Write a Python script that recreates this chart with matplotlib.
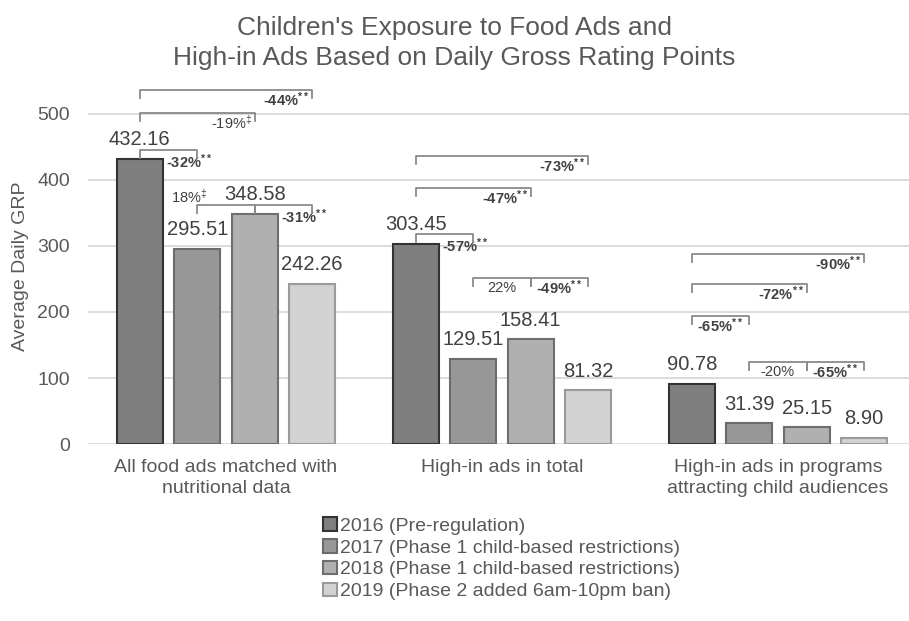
import numpy as np
import matplotlib
matplotlib.use('Agg')
import matplotlib.pyplot as plt
from matplotlib.patches import Patch

plt.rcParams['font.family'] = ['Liberation Sans', 'DejaVu Sans']
plt.rcParams['mathtext.fontset'] = 'custom'
plt.rcParams['mathtext.rm'] = 'Liberation Sans'
plt.rcParams['mathtext.bf'] = 'Liberation Sans:bold'
plt.rcParams['mathtext.default'] = 'regular'

# Data
categories = ['All food ads matched with\nnutritional data',
              'High-in ads in total',
              'High-in ads in programs\nattracting child audiences']
years = ['2016 (Pre-regulation)',
         '2017 (Phase 1 child-based restrictions)',
         '2018 (Phase 1 child-based restrictions)',
         '2019 (Phase 2 added 6am-10pm ban)']
grp_2016 = [432.16, 303.45, 90.78]
grp_2017 = [295.51, 129.51, 31.39]
grp_2018 = [348.58, 158.41, 25.15]
grp_2019 = [242.26, 81.32, 8.90]

# percentage change labels: (category, from bar, to bar, label, significance mark)
changes = [
    (0, 0, 3, '-44%', '**'),
    (0, 0, 2, '-19%', '‡'),
    (0, 0, 1, '-32%', '**'),
    (0, 1, 2, '18%', '‡'),
    (0, 2, 3, '-31%', '**'),
    (1, 0, 3, '-73%', '**'),
    (1, 0, 2, '-47%', '**'),
    (1, 0, 1, '-57%', '**'),
    (1, 1, 2, '22%', ''),
    (1, 2, 3, '-49%', '**'),
    (2, 0, 3, '-90%', '**'),
    (2, 0, 2, '-72%', '**'),
    (2, 0, 1, '-65%', '**'),
    (2, 1, 2, '-20%', ''),
    (2, 2, 3, '-65%', '**'),
]

# bracket layout for each change above: height, text placement
bracket_y = [536, 501, 445, 362, 362,
             436, 388, 318, 251, 251,
             288, 242, 194, 124, 124]
text_mode = ['right', 'right', 'after', 'aboveleft', 'after',
             'right', 'right', 'after', 'center', 'center',
             'right', 'right', 'center', 'center', 'center']

series = [grp_2016, grp_2017, grp_2018, grp_2019]
fills = ['#7f7f7f', '#979797', '#b0b0b0', '#d2d2d2']
edges = ['#333333', '#6b6b6b', '#6e6e6e', '#9a9a9a']
txt = '#595959'

fig = plt.figure(figsize=(9.09, 6.21), dpi=100)
ax = fig.add_axes([0.0968, 0.285, 0.9032, 0.574])

x = np.arange(len(categories))
width = 0.167
step = 0.2083

for j, vals in enumerate(series):
    pos = x + (j - 1.5) * step
    bars = ax.bar(pos, vals, width, color=fills[j], edgecolor=edges[j],
                  linewidth=1.5, label=years[j], zorder=3)
    for b, v in zip(bars, vals):
        ax.annotate(f'{v:.2f}', (b.get_x() + b.get_width() / 2, v),
                    xytext=(0, 7), textcoords='offset points',
                    ha='center', va='bottom', fontsize=14.5, color='#404040')

leg = 12
for (c, a, b, lab, sig), yb, mode in zip(changes, bracket_y, text_mode):
    xa = c + (a - 1.5) * step
    xb = c + (b - 1.5) * step
    ax.plot([xa, xa, xb, xb], [yb - leg, yb, yb, yb - leg],
            color='#8a8a8a', lw=1.3, zorder=4, clip_on=False)
    s = lab
    if sig:
        s += r'$^{' + sig + r'}$'
    fw = 'bold' if sig == '**' else 'normal'
    kw = dict(textcoords='offset points', va='center', fontsize=10.5,
              color='#404040', fontweight=fw)
    if mode == 'right':
        ax.annotate(s, (xb, yb), xytext=(-2, -7), ha='right', **kw)
    elif mode == 'center':
        ax.annotate(s, ((xa + xb) / 2, yb), xytext=(0, -7), ha='center', **kw)
    elif mode == 'after':
        ax.annotate(s, (xa + width / 2, yb), xytext=(2, -8.5), ha='left', **kw)
    else:
        ax.annotate(s, (xa, yb), xytext=(-6, 6), ha='center', **kw)

ax.set_xlim(-0.5, 2.475)
ax.set_ylim(0, 540)
ax.set_yticks([0, 100, 200, 300, 400, 500])
ax.set_xticks(x)
ax.set_xticklabels(categories, fontsize=14, color=txt, linespacing=1.25)
ax.tick_params(axis='y', length=0, pad=13, labelsize=14, labelcolor=txt)
ax.tick_params(axis='x', length=0, pad=11)
ax.yaxis.grid(True, color='#d9d9d9', lw=1.3, zorder=0)
for sp in ax.spines.values():
    sp.set_visible(False)
ax.set_ylabel('Average Daily GRP', fontsize=14, color=txt, labelpad=6)

fig.suptitle("Children's Exposure to Food Ads and\nHigh-in Ads Based on Daily Gross Rating Points",
             fontsize=19, color=txt, y=0.974, linespacing=1.3)

handles = [Patch(facecolor=fills[j], edgecolor=edges[j], linewidth=1.5) for j in range(4)]
fig.legend(handles, years, loc='upper left', bbox_to_anchor=(0.345, 0.183),
           frameon=False, fontsize=14, labelcolor=txt, handlelength=0.7,
           handleheight=0.7, handletextpad=0.15, labelspacing=0.22, borderpad=0)

fig.savefig('out.png', dpi=100)
